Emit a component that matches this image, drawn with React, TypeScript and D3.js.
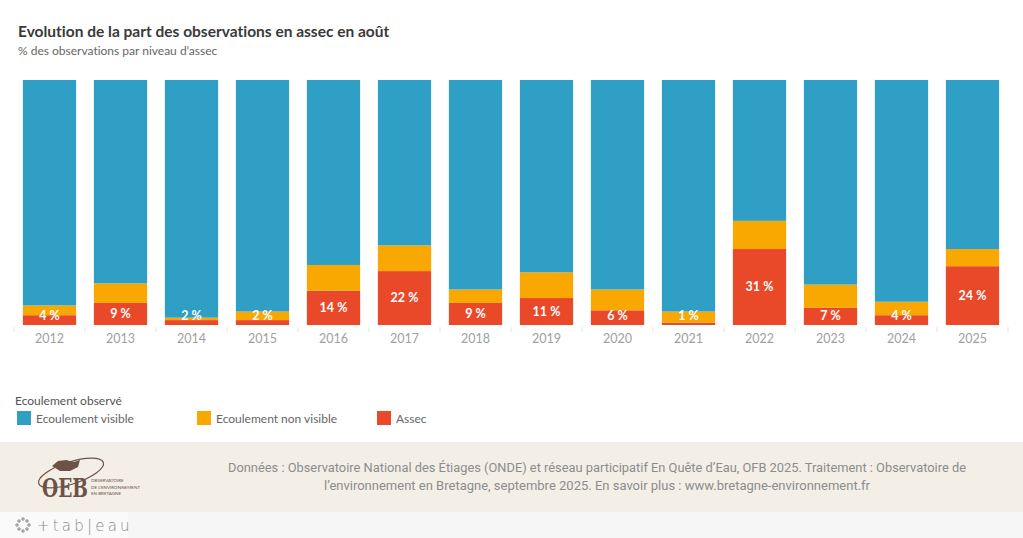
import React from 'react';
import * as d3 from 'd3';

const years = ['2012', '2013', '2014', '2015', '2016', '2017', '2018', '2019', '2020', '2021', '2022', '2023', '2024', '2025'];
const assec = [4, 9, 2, 2, 14, 22, 9, 11, 6, 1, 31, 7, 4, 24];
const nonVisible = [4, 8, 1, 3.5, 10.5, 10.5, 5.5, 10.5, 8.5, 4.5, 11.5, 9.5, 5.5, 7];
const visible = [92, 83, 97, 94.5, 75.5, 67.5, 85.5, 78.5, 85.5, 94.5, 57.5, 83.5, 90.5, 69];

const seriesKeys = ['assec', 'nonVisible', 'visible'];
const colors: Record<string, string> = {
  visible: '#309fc5',
  nonVisible: '#f8a800',
  assec: '#e94829',
};

const W = 1023;
const H = 538;
const FONT = 'Lato, "Open Sans", sans-serif';

export default function App() {
  const x = d3.scaleBand<string>()
    .domain(years)
    .range([14, 1008])
    .paddingInner(0.25)
    .paddingOuter(0.125);

  const y = d3.scaleLinear().domain([0, 100]).range([325, 80]);

  const rows = years.map((yr, i) => ({ year: yr, assec: assec[i], nonVisible: nonVisible[i], visible: visible[i] }));
  const stacked = d3.stack<any>().keys(seriesKeys)(rows);

  // little separators between the year bands, under the bars
  const gap = x.step() * x.paddingInner();
  const boundaries = years.map(yr => (x(yr) as number) - gap / 2);
  boundaries.push((x(years[years.length - 1]) as number) + x.bandwidth() + gap / 2);

  const legendItems = [
    { key: 'visible', label: 'Ecoulement visible', x: 17 },
    { key: 'nonVisible', label: 'Ecoulement non visible', x: 197 },
    { key: 'assec', label: 'Assec', x: 377 },
  ];

  return (
    <div style={{ position: 'fixed', left: 0, top: 0 }}>
      <svg width={W} height={H} style={{ display: 'block', background: '#fff', fontVariantLigatures: 'none' }} fontFamily={FONT}>
        <text x={18} y={37} fontSize={15.5} fontWeight={700} fill="#3a3a3a">
          Evolution de la part des observations en assec en août
        </text>
        <text x={18} y={55} fontSize={12} fill="#666">
          % des observations par niveau d’assec
        </text>

        {stacked.map(layer => (
          <g key={layer.key} fill={colors[layer.key]}>
            {layer.map((d, i) => (
              <rect
                key={years[i]}
                x={x(years[i])}
                y={y(d[1])}
                width={x.bandwidth()}
                height={y(d[0]) - y(d[1])}
              />
            ))}
          </g>
        ))}

        {assec.map((v, i) => {
          const cy = Math.min((y(0) + y(v)) / 2, 316);
          return (
            <text
              key={years[i]}
              x={(x(years[i]) as number) + x.bandwidth() / 2}
              y={cy}
              dy="0.35em"
              textAnchor="middle"
              fontSize={12.5}
              fontWeight={700}
              fill="#fff"
            >
              {v} %
            </text>
          );
        })}

        {boundaries.map((b, i) => (
          <line key={i} x1={b} x2={b} y1={327} y2={332} stroke="#e3e3e3" strokeWidth={1} />
        ))}

        {years.map(yr => (
          <text
            key={yr}
            x={(x(yr) as number) + x.bandwidth() / 2}
            y={343}
            textAnchor="middle"
            fontSize={12.5}
            fill="#a0a0a0"
          >
            {yr}
          </text>
        ))}

        <text x={15} y={405} fontSize={12} fill="#555">Ecoulement observé</text>
        {legendItems.map(item => (
          <g key={item.key}>
            <rect x={item.x} y={411} width={14} height={14} fill={colors[item.key]} />
            <text x={item.x + 19} y={423} fontSize={12} fill="#666">{item.label}</text>
          </g>
        ))}

        <rect x={0} y={442} width={W} height={70} fill="#f3efe7" />
        <g fill="#8c8c8c" fontSize={12} textAnchor="middle" fontFamily='"Liberation Sans Narrow", "Roboto", sans-serif'>
          <text x={597} y={472} textLength={738} lengthAdjust="spacingAndGlyphs">
            Données : Observatoire National des Étiages (ONDE) et réseau participatif En Quête d’Eau, OFB 2025. Traitement : Observatoire de
          </text>
          <text x={597} y={490} textLength={546} lengthAdjust="spacingAndGlyphs">
            l’environnement en Bretagne, septembre 2025. En savoir plus : www.bretagne-environnement.fr
          </text>
        </g>

        {/* OEB logo */}
        <g fill="#6d5247">
          <ellipse cx={71} cy={473} rx={34} ry={11} fill="none" stroke="#6d5247" strokeWidth={1.2} transform="rotate(-18 71 473)" />
          <path d="M52,466 L58,461 L66,460 L74,462 L80,460 L78,467 L70,471 L60,471 Z" />
          <text x={42} y={497} fontSize={26} fontWeight={700} fontFamily='"DejaVu Serif", serif' textLength={46} lengthAdjust="spacingAndGlyphs">OEB</text>
          <g transform="translate(91 482) scale(0.5)">
            <text fontSize={9} fontFamily={FONT}>
              <tspan x={0} y={0}>OBSERVATOIRE</tspan>
              <tspan x={0} y={13}>DE L’ENVIRONNEMENT</tspan>
              <tspan x={0} y={26}>EN BRETAGNE</tspan>
            </text>
          </g>
        </g>

        {/* tableau footer */}
        <rect x={0} y={512} width={W} height={26} fill="#f6f6f6" />
        <rect x={0} y={512} width={128} height={26} fill="#fafafa" />
        <g stroke="#8a8a8a" strokeWidth={1}>
          {[[23, 519], [17, 525], [29, 525], [23, 531], [19, 521], [27, 521], [19, 529], [27, 529]].map(([cx, cy], i) => (
            <g key={i}>
              <line x1={cx - 2} x2={cx + 2} y1={cy} y2={cy} />
              <line x1={cx} x2={cx} y1={cy - 2} y2={cy + 2} />
            </g>
          ))}
        </g>
        <text x={37} y={531} fontSize={15} fill="#8a8a8a" letterSpacing={3.2} fontFamily='"DejaVu Sans", sans-serif' fontWeight={300}>
          +tab|eau
        </text>
      </svg>
    </div>
  );
}
